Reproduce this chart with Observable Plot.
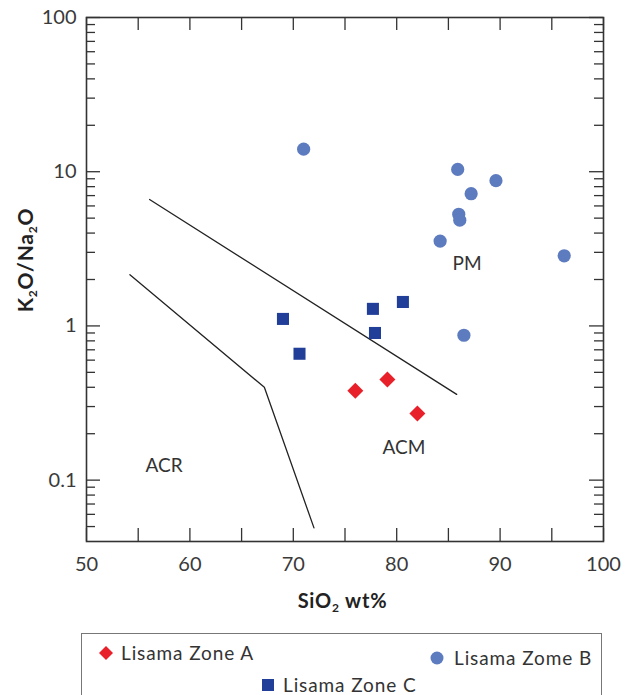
<!DOCTYPE html>
<html><head><meta charset="utf-8">
<script src="https://cdn.jsdelivr.net/npm/d3@7"></script>
<script src="https://cdn.jsdelivr.net/npm/@observablehq/plot@0.6"></script>
<style>
body{margin:0;background:#fff;font-family:Lato,"Noto Sans",sans-serif;}
#wrap{position:relative;width:629px;height:695px;overflow:hidden}
#legend{position:absolute;left:81px;top:633px;width:521px;height:90px;border:1px solid #777;box-sizing:border-box}
.item{position:absolute;font-size:19px;color:#333;white-space:nowrap;line-height:20px;letter-spacing:0.9px}
.item svg{position:absolute;overflow:visible}
</style></head><body><div id="wrap"><div id="chart"></div><div id="legend"></div></div>
<script>
// Data
const zoneA_SiO2 = [76.0, 79.1, 82.0];
const zoneA_ratio = [0.38, 0.45, 0.27];
const zoneB_SiO2 = [71.0, 85.9, 89.6, 87.2, 86.0, 86.1, 84.2, 96.2, 86.5];
const zoneB_ratio = [14.0, 10.35, 8.75, 7.2, 5.3, 4.85, 3.55, 2.85, 0.87];
const zoneC_SiO2 = [69.0, 70.6, 77.7, 77.9, 80.6];
const zoneC_ratio = [1.11, 0.66, 1.29, 0.90, 1.43];
// Discrimination boundaries
const upperLine_SiO2 = [56.1, 85.8];
const upperLine_ratio = [6.6, 0.36];
const lowerLine_SiO2 = [54.2, 67.2, 72.0];
const lowerLine_ratio = [2.15, 0.40, 0.049];
// Field labels
const fieldNames = ["ACR", "ACM", "PM"];
const field_SiO2 = [57.5, 80.7, 86.8];
const field_ratio = [0.124, 0.162, 2.53];
// Ticks
const xTickValues = [50, 55, 60, 65, 70, 75, 80, 85, 90, 95, 100];
const xTickLabels = [50, 60, 70, 80, 90, 100];
const yMajor = [0.1, 1, 10, 100];
const yMinor = [0.05, 0.06, 0.07, 0.08, 0.09, 0.2, 0.3, 0.4, 0.5, 0.6, 0.7, 0.8, 0.9,
  2, 3, 4, 5, 6, 7, 8, 9, 20, 30, 40, 50, 60, 70, 80, 90];
const legendNames = ["Lisama Zone A", "Lisama Zome B", "Lisama Zone C"];

const colA = "#e8202a", colB = "#5d7bbf", colC = "#213f98";
const zip = (xs, ys) => xs.map((x, i) => ({x, y: ys[i]}));
const A = zip(zoneA_SiO2, zoneA_ratio);
const B = zip(zoneB_SiO2, zoneB_ratio);
const C = zip(zoneC_SiO2, zoneC_ratio);
const upper = zip(upperLine_SiO2, upperLine_ratio);
const lower = zip(lowerLine_SiO2, lowerLine_ratio);
const fields = fieldNames.map((t, i) => ({t, x: field_SiO2[i], y: field_ratio[i]}));

const W = 629, H = 620, mL = 86, mR = 26, mT = 17, mB = 79;
const pw = W - mL - mR, ph = H - mT - mB;
const tickC = "#333";
const FONT = "Lato, 'Noto Sans', sans-serif";

const svg = Plot.plot({
  width: W, height: H,
  marginLeft: mL, marginRight: mR, marginTop: mT, marginBottom: mB,
  style: {fontFamily: FONT, color: "#333", background: "#fff"},
  x: {domain: [50, 100]},
  y: {type: "log", domain: [0.04, 100]},
  marks: [
    Plot.axisX({ticks: xTickLabels, tickSize: 0, tickPadding: 15, fontSize: 20, label: null, tickFormat: d => d, fill: "#3a3a3a"}),
    Plot.axisY({ticks: yMajor, tickSize: 0, tickPadding: 10, fontSize: 20, label: null, tickFormat: d => String(d), fill: "#3a3a3a"}),
    // inward ticks
    Plot.tickX(xTickValues, {x: d => d, insetTop: ph - 13, stroke: tickC, strokeWidth: 1.3}),
    Plot.tickX(xTickValues, {x: d => d, insetBottom: ph - 13, stroke: tickC, strokeWidth: 1.3}),
    Plot.tickY(yMajor, {y: d => d, insetRight: pw - 14, stroke: tickC, strokeWidth: 1.3}),
    Plot.tickY(yMinor, {y: d => d, insetRight: pw - 9, stroke: tickC, strokeWidth: 1.3}),
    Plot.tickY(yMajor, {y: d => d, insetLeft: pw - 14, stroke: tickC, strokeWidth: 1.3}),
    Plot.tickY(yMinor, {y: d => d, insetLeft: pw - 9, stroke: tickC, strokeWidth: 1.3}),
    Plot.frame({stroke: "#333", strokeWidth: 1.6}),
    Plot.line(upper, {x: "x", y: "y", stroke: "#222", strokeWidth: 1.3}),
    Plot.line(lower, {x: "x", y: "y", stroke: "#222", strokeWidth: 1.3}),
    Plot.text(fields, {x: "x", y: "y", text: "t", fontSize: 19, fill: "#333", letterSpacing: 0.5}),
    Plot.dot(B, {x: "x", y: "y", r: 6.6, fill: colB, stroke: "none", symbol: "circle"}),
    Plot.dot(C, {x: "x", y: "y", r: 6.8, fill: colC, stroke: "none", symbol: "square"}),
    Plot.dot(A, {x: "x", y: "y", r: 7.2, fill: colA, stroke: "none", symbol: "diamond2"})
  ]
});
document.getElementById("chart").appendChild(svg);

const s = d3.select(svg);
const xl = s.append("text").attr("x", mL + pw / 2 - 2).attr("y", 608).attr("text-anchor", "middle")
  .attr("font-size", 20).attr("font-weight", "bold").attr("fill", "#222")
  .attr("letter-spacing", 0.8).attr("font-family", FONT);
xl.append("tspan").text("SiO");
xl.append("tspan").text("2").attr("font-size", 12).attr("dy", 4);
xl.append("tspan").text(" wt%").attr("dy", -4);

const yl = s.append("text").attr("transform", "translate(33,260) rotate(-90)").attr("text-anchor", "middle")
  .attr("font-size", 21).attr("font-weight", "bold").attr("fill", "#222")
  .attr("letter-spacing", 0.8).attr("font-family", FONT);
yl.append("tspan").text("K");
yl.append("tspan").text("2").attr("font-size", 12).attr("dy", 4);
yl.append("tspan").text("O/Na").attr("dy", -4);
yl.append("tspan").text("2").attr("font-size", 12).attr("dy", 4);
yl.append("tspan").text("O").attr("dy", -4);

// Legend
const legend = document.getElementById("legend");
const items = [
  {name: legendNames[0], left: 39, top: 9, sym: `<polygon points="7,0 14,7 7,14 0,7" fill="${colA}"/>`, sx: -8},
  {name: legendNames[1], left: 372, top: 14, sym: `<circle cx="7" cy="7" r="6.5" fill="${colB}"/>`, sx: -10},
  {name: legendNames[2], left: 201, top: 41, sym: `<rect x="1" y="1" width="12" height="12" fill="${colC}"/>`, sx: -8}
];
for (const it of items) {
  const d = document.createElement("div");
  d.className = "item";
  d.style.left = it.left + "px";
  d.style.top = it.top + "px";
  d.innerHTML = `<svg width="14" height="14" style="left:${it.sx - 14}px;top:3px">${it.sym}</svg>${it.name}`;
  legend.appendChild(d);
}
</script></body></html>
